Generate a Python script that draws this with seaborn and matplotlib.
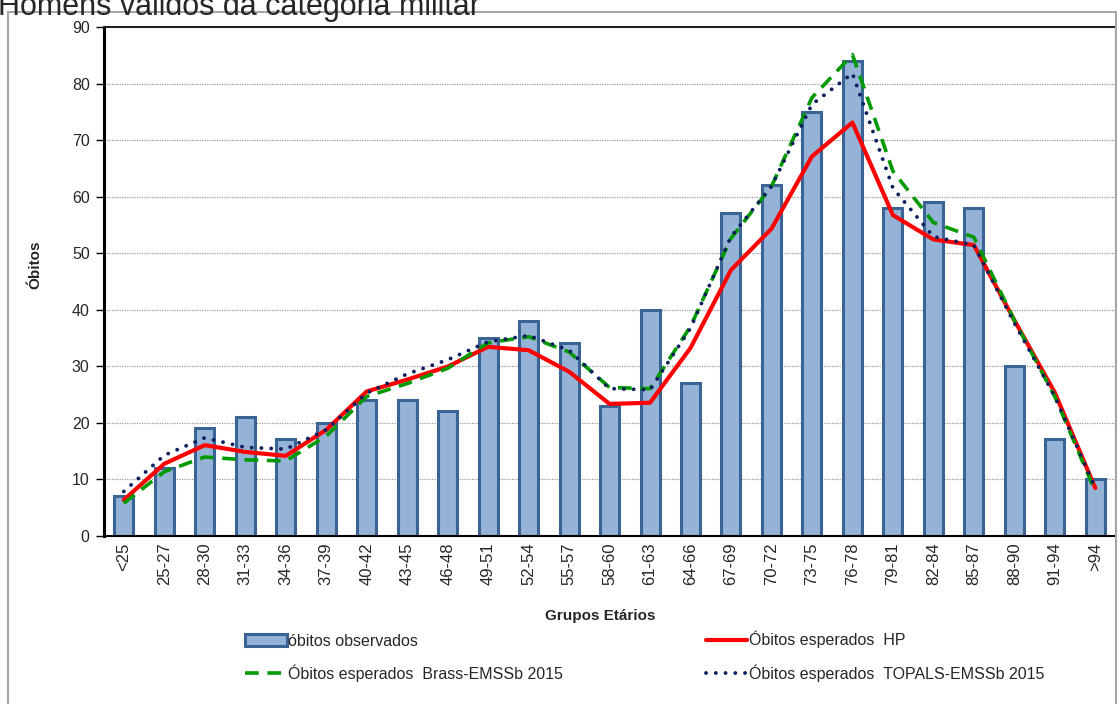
import numpy as np
import pandas as pd
import matplotlib
matplotlib.use("Agg")
import matplotlib.pyplot as plt
from matplotlib.patches import Rectangle
from matplotlib.lines import Line2D
import seaborn as sns

# age groups and deaths
grupos = ["<25", "25-27", "28-30", "31-33", "34-36", "37-39", "40-42", "43-45",
          "46-48", "49-51", "52-54", "55-57", "58-60", "61-63", "64-66", "67-69",
          "70-72", "73-75", "76-78", "79-81", "82-84", "85-87", "88-90", "91-94", ">94"]
observados = [7, 12, 19, 21, 17, 20, 24, 24, 22, 35, 38, 34, 23, 40, 27, 57,
              62, 75, 84, 58, 59, 58, 30, 17, 10]
esperados_hp = [6.3, 12.7, 16.0, 14.8, 14.1, 18.7, 25.5, 27.6, 29.9, 33.4, 32.8, 29.0,
                23.3, 23.5, 33.2, 47.0, 54.3, 67.1, 73.1, 56.7, 52.4, 51.4, 38.1, 25.3, 8.4]
esperados_brass = [5.7, 11.3, 13.9, 13.4, 13.2, 17.6, 24.6, 26.9, 29.6, 34.1, 35.2, 32.5,
                   26.2, 26.0, 37.0, 52.6, 61.8, 77.5, 85.1, 64.5, 55.4, 52.8, 38.1, 24.6, 7.8]
esperados_topals = [7.8, 14.2, 17.3, 15.6, 15.3, 18.7, 25.2, 28.6, 31.1, 34.3, 35.4, 32.8,
                    26.0, 25.8, 36.7, 52.9, 61.8, 76.3, 81.8, 61.5, 52.9, 51.4, 37.6, 24.6, 8.4]

sns.set_style("white")
plt.rcParams['font.family'] = ['Liberation Sans', 'DejaVu Sans']

df = pd.DataFrame({"grupo": grupos, "obs": observados})
pos = np.arange(len(grupos))

fig = plt.figure(figsize=(11.17, 7.04), dpi=100)
ax = fig.add_axes([0.0927, 0.2393, 0.906, 0.7223])

# outer frame
fig.patches.append(Rectangle((8 / 1117, -0.01), (1116 - 8) / 1117, (704 - 12) / 704 + 0.01,
                             transform=fig.transFigure, fill=False,
                             edgecolor="#A6A6A6", linewidth=1.5, zorder=0))

sns.barplot(data=df, x="grupo", y="obs", order=grupos, color="#95B3D7",
            saturation=1, width=0.47, edgecolor="#3B6496", linewidth=2.2, ax=ax,
            zorder=2)

sns.lineplot(x=pos, y=esperados_hp, color="#FF0000", linewidth=3.0, ax=ax, zorder=3)
sns.lineplot(x=pos, y=esperados_brass, color="#009A00", linewidth=2.6, ax=ax, zorder=4)
ax.lines[-1].set_dashes([3.8, 2.4])
sns.lineplot(x=pos, y=esperados_topals, color="#0C1F5E", linewidth=2.8, ax=ax, zorder=5)
ax.lines[-1].set_dashes([0.01, 2.5])
ax.lines[-1].set_dash_capstyle("round")

ax.set_xlim(-0.5, len(grupos) - 0.5)
ax.set_ylim(0, 90)
ax.set_yticks(range(0, 91, 10))
ax.set_yticklabels([str(v) for v in range(0, 91, 10)], fontsize=11.5)
ax.set_xticks(pos)
ax.set_xticklabels(grupos, rotation=90, fontsize=12, va="top", ha="center")
ax.set_xticks(np.arange(-0.5, len(grupos), 1), minor=True)
ax.tick_params(axis="x", which="major", length=0, pad=5)
ax.tick_params(axis="x", which="minor", length=6, width=1, direction="out", color="black")
ax.tick_params(axis="y", length=6, width=1, direction="out", color="black", left=True, pad=4)

for v in range(10, 90, 10):
    ax.axhline(v, color="#9A9A9A", linewidth=0.9, linestyle=(0, (1, 1)), zorder=1)

ax.spines["left"].set_linewidth(2.2)
ax.spines["left"].set_color("black")
ax.spines["bottom"].set_linewidth(1.5)
ax.spines["bottom"].set_color("black")
ax.spines["top"].set_linewidth(1.5)
ax.spines["top"].set_color("#222222")
ax.spines["right"].set_linewidth(1.5)
ax.spines["right"].set_color("#444444")

ax.set_xlabel("")
ax.set_ylabel("")
fig.text(35 / 1117, 1 - 265 / 704, "Óbitos", rotation=90, fontsize=11,
         fontweight="bold", ha="center", va="center")
fig.text(600 / 1117, 1 - 616 / 704, "Grupos Etários", fontsize=11,
         fontweight="bold", ha="center", va="center")

# title is partly cut at the top edge, as in the source
fig.text(-0.002, 1 - 15 / 704, "Homens válidos da categoria militar", fontsize=22,
         ha="left", va="baseline")

handles = [
    Rectangle((0, 0), 1, 1, facecolor="#95B3D7", edgecolor="#3B6496", linewidth=2.2),
    Line2D([], [], color="#009A00", linewidth=2.6, dashes=[3.8, 2.4]),
    Line2D([], [], color="#FF0000", linewidth=3.0),
    Line2D([], [], color="#0C1F5E", linewidth=2.8, dashes=[0.01, 2.5], dash_capstyle="round"),
]
labels = ["óbitos observados", "Óbitos esperados  Brass-EMSSb 2015",
          "Óbitos esperados  HP", "Óbitos esperados  TOPALS-EMSSb 2015"]
fig.legend(handles, labels, ncol=2, loc="upper left",
           bbox_to_anchor=(245 / 1117, 1 - 631 / 704), frameon=False,
           fontsize=11.5, handlelength=2.6, handleheight=0.8, handletextpad=0.1,
           columnspacing=8.95, labelspacing=1.0, borderpad=0, borderaxespad=0)

fig.savefig("out.png", dpi=100)
